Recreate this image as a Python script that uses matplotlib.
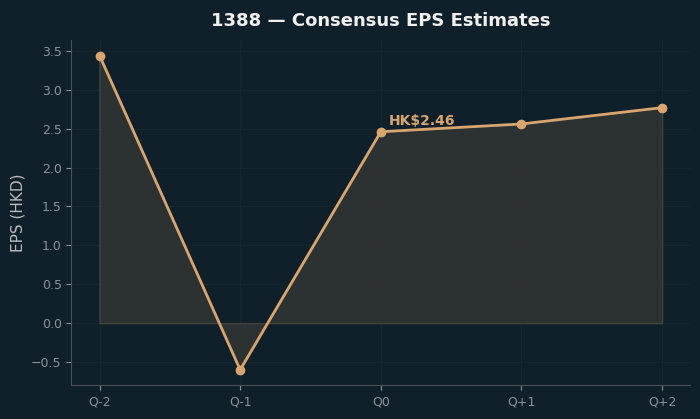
import matplotlib.pyplot as plt

quarters = ["Q-2", "Q-1", "Q0", "Q+1", "Q+2"]
eps = [3.44, -0.60, 2.46, 2.56, 2.77]
current_label = "HK$2.46"

bg = "#10202a"
line_color = "#d9a56f"

fig, ax = plt.subplots(figsize=(7, 4.19), dpi=100)
fig.patch.set_facecolor(bg)
ax.set_facecolor(bg)

x = list(range(len(quarters)))
ax.fill_between(x, eps, 0, color="#2e3332", alpha=0.97, linewidth=1, edgecolor="#41463f")
ax.plot(x, eps, color=line_color, linewidth=2, marker="o", markersize=6)

ax.annotate(current_label, (2, eps[2]), xytext=(6, 5), textcoords="offset points",
            color=line_color, fontsize=10, fontweight="bold")

ax.set_xticks(x)
ax.set_xticklabels(quarters)
ax.set_title("1388 — Consensus EPS Estimates", color="#f0f0f0", fontsize=13,
             fontweight="bold", pad=10)
ax.set_ylabel("EPS (HKD)", color="#b8bcbf", fontsize=11)

ax.tick_params(colors="#8a9399", labelsize=9)
for side in ["top", "right"]:
    ax.spines[side].set_visible(False)
for side in ["left", "bottom"]:
    ax.spines[side].set_color("#4a4f52")
ax.grid(True, color="#15262e", linewidth=0.8)
ax.set_axisbelow(True)

plt.subplots_adjust(left=0.102, right=0.986, top=0.905, bottom=0.08)
plt.savefig("out.png", facecolor=bg)
